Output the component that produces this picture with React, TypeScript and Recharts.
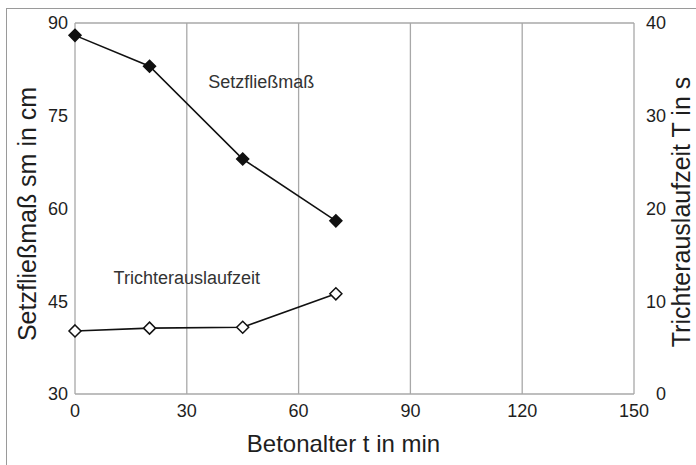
import { LineChart, Line, XAxis, YAxis, CartesianGrid, ReferenceDot, Label } from 'recharts'

// Betonalter t in min
const times = [0, 20, 45, 70]
// Setzfließmaß sm in cm (linke Achse)
const setzfliessmass = [88, 83, 68, 58]
// Trichterauslaufzeit T in s (rechte Achse)
const trichterzeit = [6.8, 7.1, 7.2, 10.8]

const xTicks = [0, 30, 60, 90, 120, 150]
const leftTicks = [30, 45, 60, 75, 90]
const rightTicks = [0, 10, 20, 30, 40]

const data = times.map((t, i) => ({ t, sm: setzfliessmass[i], T: trichterzeit[i] }))

const FONT = '"Liberation Sans", Arial, sans-serif'
const TEXT = '#1e1e1e'

function diamond(filled: boolean) {
  return (props: any) => {
    const { cx, cy, index } = props
    if (cx == null || cy == null) return <g key={index} />
    const s = 6
    return (
      <polygon
        key={index}
        points={`${cx},${cy - s} ${cx + s},${cy} ${cx},${cy + s} ${cx - s},${cy}`}
        fill={filled ? '#111' : '#fff'}
        stroke="#111"
        strokeWidth={1.5}
      />
    )
  }
}

function RightTick(props: any) {
  const { x, y, payload } = props
  return (
    <text x={x + 32} y={y} dy="0.35em" textAnchor="end" fontSize={18} fill={TEXT} fontFamily={FONT}>
      {payload.value}
    </text>
  )
}

function VerticalTitle({ viewBox, value, baseX, centerY, size }: any) {
  const x = viewBox.x + baseX
  const y = centerY
  return (
    <text
      x={x}
      y={y}
      textAnchor="middle"
      fontSize={size}
      fill={TEXT}
      fontFamily={FONT}
      transform={`rotate(-90, ${x}, ${y})`}
    >
      {value}
    </text>
  )
}

export default function App() {
  return (
    <div style={{ position: 'absolute', left: 0, top: 0, width: 696, height: 465, background: '#fff', overflow: 'hidden' }}>
      <div
        style={{
          position: 'absolute',
          left: 6,
          top: 8,
          width: 700,
          height: 470,
          borderLeft: '1px solid #9a9a9a',
          borderTop: '1px solid #9a9a9a',
        }}
      />
      <LineChart
        width={696}
        height={465}
        data={data}
        margin={{ top: 23, right: 0, bottom: 0, left: 0 }}
        style={{ position: 'absolute', left: 0, top: 0, fontFamily: FONT }}
      >
        <CartesianGrid stroke="#a8a8a8" strokeWidth={1.3} />
        <XAxis
          dataKey="t"
          type="number"
          domain={[0, 150]}
          ticks={xTicks}
          height={71}
          axisLine={false}
          tickLine={false}
          tickSize={0}
          tickMargin={10}
          tick={{ fontSize: 18, fill: TEXT }}
        >
          <Label value="Betonalter t in min" position="insideBottom" offset={13} dx={-11} fontSize={24} fill={TEXT} />
        </XAxis>
        <YAxis
          yAxisId="left"
          orientation="left"
          type="number"
          domain={[30, 90]}
          ticks={leftTicks}
          width={75}
          axisLine={false}
          tickLine={false}
          tickSize={0}
          tickMargin={7}
          tick={{ fontSize: 18, fill: TEXT }}
        >
          <Label content={(p: any) => <VerticalTitle {...p} value="Setzfließmaß sm in cm" baseX={36} centerY={214} size={25} />} />
        </YAxis>
        <YAxis
          yAxisId="right"
          orientation="right"
          type="number"
          domain={[0, 40]}
          ticks={rightTicks}
          width={62}
          axisLine={false}
          tickLine={false}
          tickSize={0}
          tickMargin={0}
          tick={<RightTick />}
        >
          <Label content={(p: any) => <VerticalTitle {...p} value="Trichterauslaufzeit T in s" baseX={56} centerY={212} size={25} />} />
        </YAxis>
        <Line
          yAxisId="left"
          dataKey="sm"
          type="linear"
          stroke="#111"
          strokeWidth={1.6}
          dot={diamond(true)}
          activeDot={false}
          isAnimationActive={false}
        />
        <Line
          yAxisId="right"
          dataKey="T"
          type="linear"
          stroke="#111"
          strokeWidth={1.6}
          dot={diamond(false)}
          activeDot={false}
          isAnimationActive={false}
        />
        <ReferenceDot
          yAxisId="left"
          x={50}
          y={80.5}
          r={0}
          fill="none"
          stroke="none"
          label={{ value: 'Setzfließmaß', position: 'center', fontSize: 18, fill: '#333' }}
        />
        <ReferenceDot
          yAxisId="left"
          x={30}
          y={48.9}
          r={0}
          fill="none"
          stroke="none"
          label={{ value: 'Trichterauslaufzeit', position: 'center', fontSize: 18, fill: '#333' }}
        />
      </LineChart>
    </div>
  )
}
